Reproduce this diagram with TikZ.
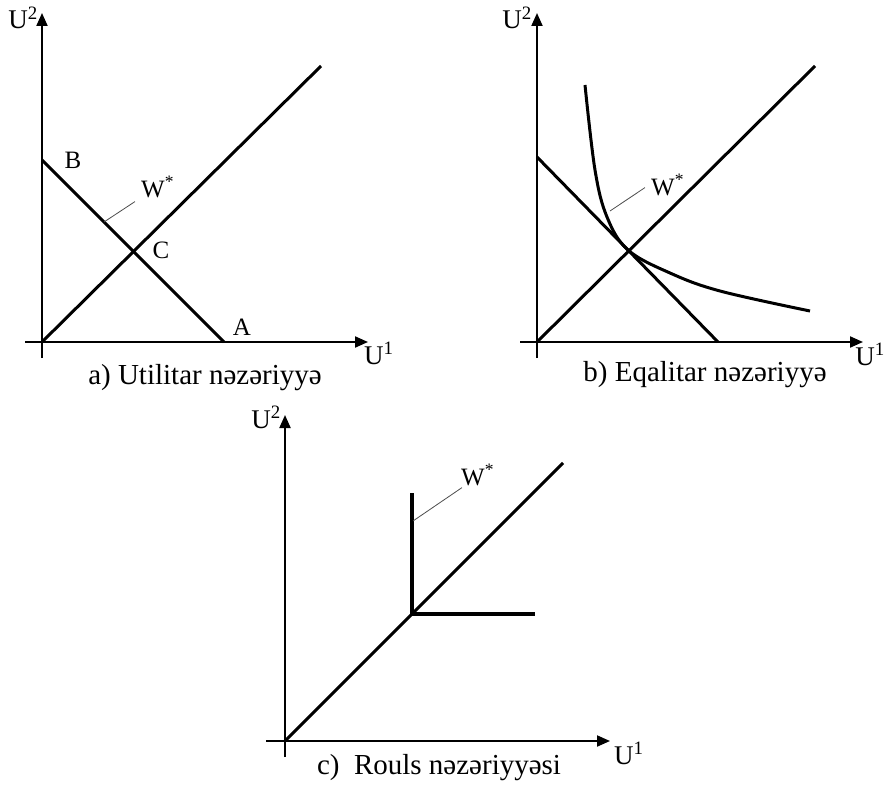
\documentclass[tikz,border=0pt]{standalone}
\usepackage{fontspec}
\setmainfont{Liberation Serif}
\usetikzlibrary{arrows.meta}

\begin{document}
\begin{tikzpicture}[x=1pt, y=-1pt,
    axis/.style = {line width=2pt, -{Triangle[length=13pt, width=11pt]}},
    main/.style = {line width=3pt},
    corner/.style = {line width=4pt, line join=miter},
    lead/.style = {line width=0.8pt, black!70},
    lbl/.style = {inner sep=0pt, font=\fontsize{25}{29}\selectfont},
    axlbl/.style = {inner sep=0pt, font=\fontsize{27}{31}\selectfont},
    captext/.style = {inner sep=0pt, font=\fontsize{29}{34}\selectfont}]
\useasboundingbox (0,0) rectangle (886,789);

% a) Utilitar
\coordinate (oa) at (42,342);
\coordinate (ya) at (42,13);
\coordinate (yb0a) at (42,358);
\coordinate (xa) at (368,342);
\coordinate (xb0a) at (25,342);
\coordinate (da) at (321,66);
\coordinate (ba) at (42,160);
\coordinate (aa) at (224,342);
\coordinate (wa) at (104,222);
\draw[axis] (yb0a) -- (ya);
\draw[axis] (xb0a) -- (xa);
\draw[main] (oa) -- (da);
\draw[main] (ba) -- (aa);
\node[axlbl, anchor=base east] (u2a) at (38,29) {U\textsuperscript{2}};
\node[axlbl, anchor=base west] (u1a) at (364,364) {U\textsuperscript{1}};
\node[lbl] (lb) at (73,160) {B};
\node[lbl] (lc) at (161,250) {C};
\node[lbl] (la) at (242,327) {A};
\node[lbl, anchor=base west] (wsa) at (141,197) {W\textsuperscript{*}};
\draw[lead] (wsa.south west) ++(-6,4) coordinate (wla) -- (wa);
\node[captext] (capa) at (205,378) {a) Utilitar nəzəriyyə};

% b) Eqalitar
\coordinate (ob) at (537,342);
\coordinate (yb) at (537,13);
\coordinate (yb0b) at (537,358);
\coordinate (xb) at (863,342);
\coordinate (xb0b) at (520,342);
\coordinate (db) at (815,66);
\coordinate (bb) at (537,157);
\coordinate (ab) at (718,342);
\coordinate (wb) at (610,211);
\draw[axis] (yb0b) -- (yb);
\draw[axis] (xb0b) -- (xb);
\draw[main] (ob) -- (db);
\draw[main] (bb) -- (ab);
\draw[main] plot[smooth, tension=0.6] coordinates {(585,85) (595,170) (607,217) (628,250) (670,273) (720,291) (810,311)};
\node[axlbl, anchor=base east] (u2b) at (532,29) {U\textsuperscript{2}};
\node[axlbl, anchor=base east] (u1b) at (885,365) {U\textsuperscript{1}};
\node[lbl, anchor=base west] (wsb) at (651,195) {W\textsuperscript{*}};
\draw[lead] (wsb.south west) ++(-6,-8) coordinate (wlb) -- (wb);
\node[captext] (capb) at (705,375) {b) Eqalitar nəzəriyyə};

% c) Rouls
\coordinate (oc) at (285,741);
\coordinate (yc) at (285,415);
\coordinate (yb0c) at (285,757);
\coordinate (xc) at (610,741);
\coordinate (xb0c) at (266,741);
\coordinate (dc) at (563,463);
\coordinate (kc) at (412,614);
\coordinate (tc) at (412,493);
\coordinate (rc) at (535,614);
\coordinate (wc) at (413,521);
\draw[axis] (yb0c) -- (yc);
\draw[axis] (xb0c) -- (xc);
\draw[main] (oc) -- (dc);
\draw[corner] (tc) -- (kc) -- (rc);
\node[axlbl, anchor=base east] (u2c) at (281,428) {U\textsuperscript{2}};
\node[axlbl, anchor=base west] (u1c) at (614,764) {U\textsuperscript{1}};
\node[lbl, anchor=base west] (wsc) at (461,485) {W\textsuperscript{*}};
\draw[lead] (wsc.south west) ++(1,2) coordinate (wlc) -- (wc);
\node[captext] (capc) at (439,768) {c)\ \ Rouls nəzəriyyəsi};
\end{tikzpicture}
\end{document}
